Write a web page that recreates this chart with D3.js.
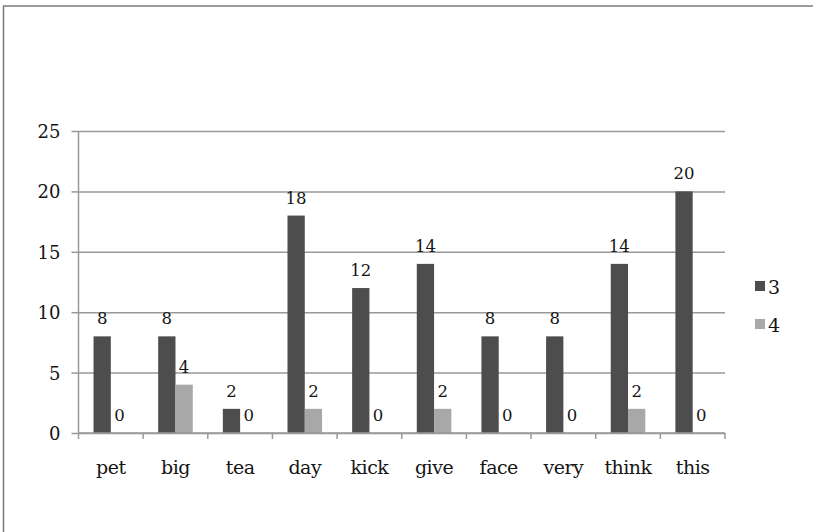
<!DOCTYPE html>
<html>
<head>
<meta charset="utf-8">
<script src="https://cdn.jsdelivr.net/npm/d3@7"></script>
<style>
  html, body { margin: 0; padding: 0; background: #fff; }
  svg { display: block; }
</style>
</head>
<body>
<svg id="chart" width="813" height="532"></svg>
<script>
// Words on the category axis
const categories = ["pet", "big", "tea", "day", "kick", "give", "face", "very", "think", "this"];
// Series names as shown in the legend
const seriesNames = ["3", "4"];
// Counts per word for each series
const series3 = [8, 8, 2, 18, 12, 14, 8, 8, 14, 20];
const series4 = [0, 4, 0, 2, 0, 2, 0, 0, 2, 0];
// Value axis ticks
const yTicks = [0, 5, 10, 15, 20, 25];

const seriesValues = [series3, series4];
const colors = ["#4d4d4d", "#a8a8a8"];
const FONT = "'DejaVu Serif', 'Liberation Serif', 'Times New Roman', Times, serif";
const TEXT_COLOR = "#151515";

const svg = d3.select("#chart");
const W = 813, H = 532;

// Frame lines along the top and left edge
svg.append("line").attr("x1", 3).attr("y1", 6).attr("x2", W).attr("y2", 6)
  .attr("stroke", "#7a7a7a").attr("stroke-width", 1.5);
svg.append("line").attr("x1", 3.5).attr("y1", 6).attr("x2", 3.5).attr("y2", H)
  .attr("stroke", "#7a7a7a").attr("stroke-width", 1.5);

const plot = { left: 78.5, right: 725, top: 131, bottom: 433 };

const x0 = d3.scaleBand().domain(categories).range([plot.left, plot.right]).padding(0);
const groupW = x0.bandwidth() * 0.535;
const x1 = d3.scaleBand().domain(seriesNames)
  .range([(x0.bandwidth() - groupW) / 2, (x0.bandwidth() + groupW) / 2]).padding(0);
const y = d3.scaleLinear().domain([0, 25]).range([plot.bottom, plot.top]);

// Horizontal gridlines with short ticks to the left of the axis
const yAxis = d3.axisLeft(y).tickValues(yTicks).tickSize(7).tickPadding(11)
  .tickFormat(d3.format("d"));
const gy = svg.append("g").attr("transform", `translate(${plot.left},0)`).call(yAxis)
  .attr("font-family", FONT).attr("font-size", 18);
gy.select(".domain").remove();
gy.selectAll(".tick line").attr("stroke", "#999").attr("stroke-width", 1.5);
gy.selectAll(".tick text").style("font-family", FONT).style("font-size", "18px")
  .attr("fill", TEXT_COLOR).attr("dy", "0.36em");
gy.selectAll(".tick").append("line")
  .attr("x1", 0).attr("x2", plot.right - plot.left)
  .attr("stroke", "#999").attr("stroke-width", 1.5);

// Vertical value axis line
svg.append("line").attr("x1", plot.left).attr("x2", plot.left)
  .attr("y1", plot.top).attr("y2", plot.bottom)
  .attr("stroke", "#999").attr("stroke-width", 1.5);

// Bars with their value labels
const groups = svg.append("g").selectAll("g").data(categories).join("g")
  .attr("transform", d => `translate(${x0(d)},0)`);

seriesNames.forEach((s, si) => {
  groups.append("rect")
    .attr("x", x1(s))
    .attr("width", x1.bandwidth())
    .attr("y", (d, i) => y(seriesValues[si][i]))
    .attr("height", (d, i) => y(0) - y(seriesValues[si][i]))
    .attr("fill", colors[si]);
  groups.append("text")
    .attr("x", x1(s) + x1.bandwidth() / 2)
    .attr("y", (d, i) => y(seriesValues[si][i]) - 12)
    .attr("text-anchor", "middle")
    .style("font-family", FONT).style("font-size", "16.5px")
    .attr("fill", TEXT_COLOR)
    .text((d, i) => seriesValues[si][i]);
});

// Category axis with boundary ticks
const xAxisY = plot.bottom;
svg.append("line").attr("x1", plot.left).attr("x2", plot.right)
  .attr("y1", xAxisY).attr("y2", xAxisY)
  .attr("stroke", "#999").attr("stroke-width", 1.5);
const bounds = categories.map(c => x0(c)).concat([plot.right]);
svg.append("g").selectAll("line").data(bounds).join("line")
  .attr("x1", d => d).attr("x2", d => d)
  .attr("y1", xAxisY).attr("y2", xAxisY + 6)
  .attr("stroke", "#999").attr("stroke-width", 1.5);
svg.append("g").selectAll("text").data(categories).join("text")
  .attr("x", d => x0(d) + x0.bandwidth() / 2)
  .attr("y", 474)
  .attr("text-anchor", "middle")
  .style("font-family", FONT).style("font-size", "19px").style("letter-spacing", "-0.5px")
  .attr("fill", TEXT_COLOR)
  .text(d => d);

// Legend (right edge of the text is clipped)
svg.append("clipPath").attr("id", "legclip")
  .append("rect").attr("x", 740).attr("y", 260).attr("width", 41).attr("height", 90);
const leg = svg.append("g").attr("clip-path", "url(#legclip)");
seriesNames.forEach((s, si) => {
  const cy = 286 + si * 38;
  leg.append("rect").attr("x", 755).attr("y", cy - 5).attr("width", 10).attr("height", 10)
    .attr("fill", colors[si]);
  leg.append("text").attr("x", 768).attr("y", cy + 8)
    .style("font-family", FONT).style("font-size", "19px")
    .attr("fill", TEXT_COLOR).text(s);
});
</script>
</body>
</html>
